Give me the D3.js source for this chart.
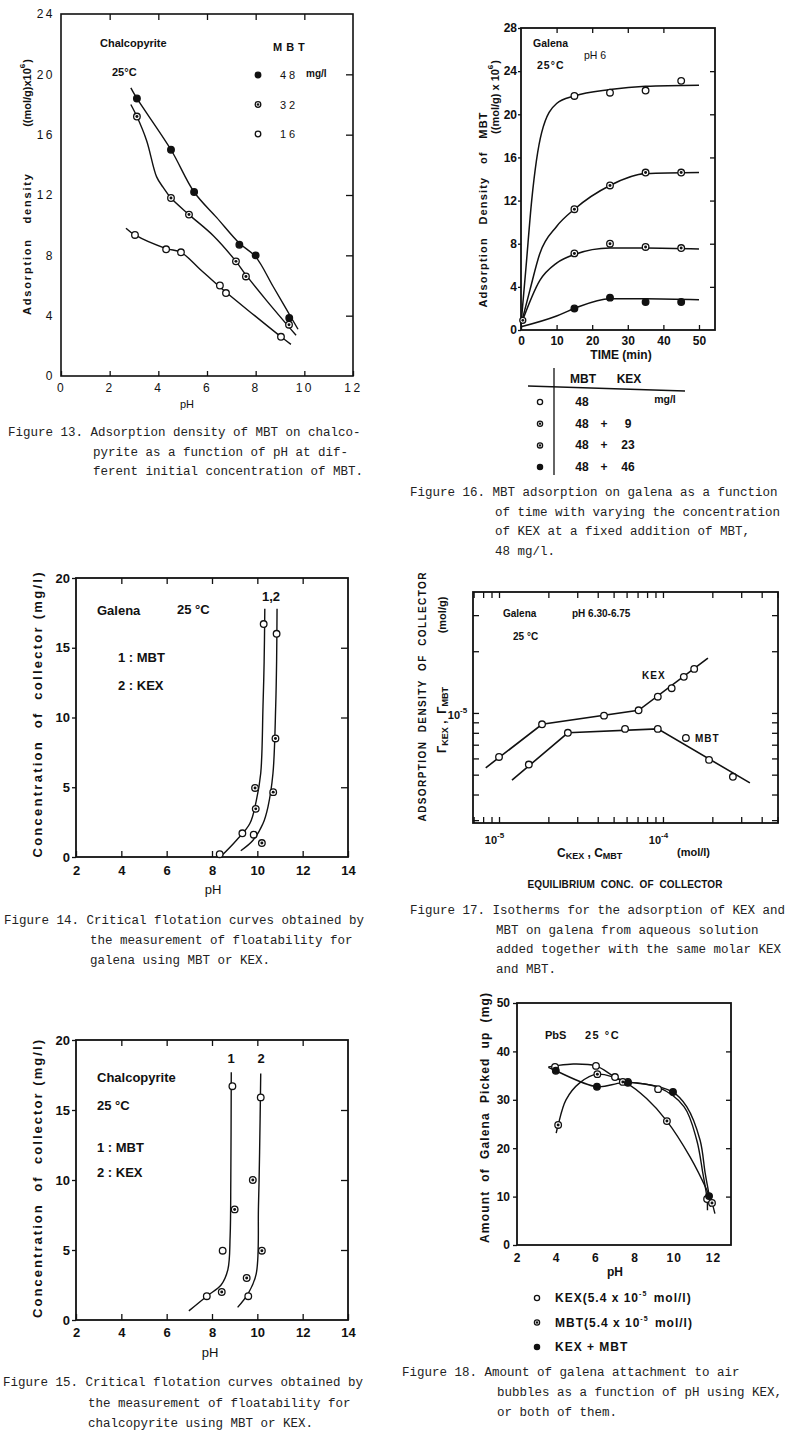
<!DOCTYPE html>
<html><head><meta charset="utf-8">
<script src="https://cdn.jsdelivr.net/npm/d3@7"></script>
<style>
body{margin:0;background:#fff;}
svg text{font-family:"Liberation Sans",Arial,sans-serif;fill:#111;white-space:pre;}
svg text.cap{font-family:"Liberation Mono","DejaVu Sans Mono",monospace;font-size:12.5px;fill:#222;font-weight:normal;}
</style></head><body>
<svg id="c" width="800" height="1440"></svg>
<script>
// ================= DATA =================
// Figure 13 : adsorption density vs pH (chalcopyrite)
const f13_xticks = [0,2,4,6,8,10,12];
const f13_yticks = [0,4,8,12,16,20,24];
const f13_pH_48 = [3.12,4.52,5.47,7.33,8.0,9.38];
const f13_ads_48 = [18.4,15.0,12.2,8.7,8.0,3.85];
const f13_pH_32 = [3.12,4.52,5.26,7.19,7.6,9.37];
const f13_ads_32 = [17.2,11.8,10.7,7.6,6.6,3.4];
const f13_pH_16 = [3.04,4.32,4.93,6.53,6.78,9.04];
const f13_ads_16 = [9.35,8.4,8.2,6.0,5.5,2.6];
const f13_curve_48 = [[2.87,19.1],[3.12,18.4],[4.52,15.0],[5.47,12.2],[6.4,10.5],[7.33,8.8],[8.0,7.9],[8.73,5.9],[9.74,3.1]];
const f13_curve_32 = [[2.87,18.0],[3.12,17.2],[3.52,15.6],[3.93,13.2],[4.2,12.5],[4.52,11.8],[5.26,10.7],[6.26,9.3],[7.19,7.6],[7.6,6.7],[8.45,5.0],[9.66,2.7]];
const f13_curve_16 = [[2.67,9.8],[3.04,9.35],[4.32,8.45],[4.93,8.2],[5.7,7.1],[6.6,5.8],[7.96,4.0],[9.04,2.6],[9.45,2.1]];
const f13_legend = ["48","32","16"];

// Figure 16 : MBT adsorption vs time (galena)
const f16_xticks = [0,10,20,30,40,50];
const f16_yticks = [0,4,8,12,16,20,24,28];
const f16_time = [15,25,35,45];
const f16_mbt48 = [21.7,22.0,22.2,23.1];
const f16_kex9 = [11.2,13.4,14.6,14.6];
const f16_kex23 = [7.1,8.0,7.7,7.6];
const f16_kex46 = [2.0,3.0,2.6,2.6];
const f16_curve_0 = [[0,0.5],[1.4,5.8],[3.0,12],[5.8,18.3],[10,21.0],[15,21.7],[25,22.3],[35,22.6],[50,22.7]];
const f16_curve_9 = [[0,0.5],[2.5,3.7],[5.3,7.1],[10,9.6],[15,11.2],[25,13.4],[35,14.5],[50,14.6]];
const f16_curve_23 = [[0,0.5],[5.3,4.6],[10,6.2],[15,7.0],[25,7.6],[35,7.6],[50,7.5]];
const f16_curve_46 = [[0,0.3],[10,1.3],[15,2.0],[25,2.9],[35,2.9],[50,2.8]];
const f16_leg_mbt = ["48","48","48","48"];
const f16_leg_kex = ["","9","23","46"];

// Figure 14 : critical flotation, galena
const f14_xticks = [2,4,6,8,10,12,14];
const f14_yticks = [0,5,10,15,20];
const f14_pH_mbt = [8.34,9.34,9.93,9.9,10.28];
const f14_c_mbt = [0.2,1.7,3.45,4.95,16.7];
const f14_k_mbt = ["open","open","half","half","open"];
const f14_pH_kex = [9.84,10.2,10.7,10.8,10.85];
const f14_c_kex = [1.6,1.0,4.65,8.5,16.0];
const f14_k_kex = ["open","half","half","half","open"];
const f14_curve_mbt = [[8.4,0.05],[9.08,1.2],[9.67,2.4],[9.95,4.0],[10.15,6.0],[10.25,10.8],[10.3,14],[10.33,17.8]];
const f14_curve_kex = [[9.27,0.45],[9.81,1.2],[10.25,2.4],[10.47,3.6],[10.69,6.0],[10.81,10.8],[10.85,14],[10.87,17.8]];

// Figure 15 : critical flotation, chalcopyrite
const f15_pH_mbt = [7.77,8.43,8.47,9.0,8.9];
const f15_c_mbt = [1.7,2.0,4.95,7.9,16.7];
const f15_k_mbt = ["open","half","open","half","open"];
const f15_pH_kex = [9.6,9.53,10.2,9.8,10.15];
const f15_c_kex = [1.7,3.0,4.95,10.0,15.9];
const f15_k_kex = ["open","half","half","half","open"];
const f15_curve_mbt = [[6.98,0.65],[7.77,1.7],[8.4,2.5],[8.7,3.6],[8.8,6],[8.83,10],[8.85,17.7]];
const f15_curve_kex = [[9.13,0.9],[9.6,1.9],[9.95,3.3],[10.05,8.1],[10.1,12],[10.15,17.6]];

// Figure 17 : isotherms (log-log)
const f17_xticks = [7e-6,8e-6,9e-6,1e-5,2e-5,3e-5,4e-5,5e-5,6e-5,7e-5,8e-5,9e-5,1e-4,2e-4,3e-4,4e-4,5e-4];
const f17_yticks = [3e-6,4e-6,5e-6,6e-6,7e-6,8e-6,9e-6,1e-5,2e-5,3e-5];
const f17_xlabels = [1e-5,1e-4];
const f17_c_kex = [1.0e-5,1.83e-5,4.37e-5,7.1e-5,9.3e-5,1.13e-4,1.34e-4,1.55e-4];
const f17_g_kex = [6.1e-6,8.8e-6,9.7e-6,1.03e-5,1.2e-5,1.32e-5,1.5e-5,1.64e-5];
const f17_c_mbt = [1.52e-5,2.63e-5,5.87e-5,9.3e-5,1.38e-4,1.91e-4,2.67e-4];
const f17_g_mbt = [5.6e-6,8.0e-6,8.36e-6,8.36e-6,7.55e-6,5.9e-6,4.88e-6];
const f17_line_kex = [[8.3e-6,5.4e-6],[1.83e-5,8.8e-6],[7.1e-5,1.03e-5],[1.88e-4,1.85e-5]];
const f17_line_mbt = [[1.2e-5,4.7e-6],[2.63e-5,8.0e-6],[9.3e-5,8.36e-6],[3.39e-4,4.56e-6]];

// Figure 18 : galena picked up vs pH
const f18_xticks = [2,4,6,8,10,12];
const f18_yticks = [0,10,20,30,40,50];
const f18_pH_kex = [3.94,6.03,7.0,7.66,9.2,11.7];
const f18_v_kex = [36.8,37.0,34.7,33.7,32.2,9.5];
const f18_pH_mbt = [4.1,6.1,7.4,9.65,11.95];
const f18_v_mbt = [24.8,35.3,33.7,25.6,8.7];
const f18_pH_both = [3.98,6.08,7.66,9.96,11.8];
const f18_v_both = [36.0,32.7,33.5,31.6,10.1];
const f18_curve_kex = [[3.6,36.8],[3.94,37.0],[4.87,37.4],[6.03,37.0],[7.0,34.7],[7.55,33.8],[9.2,32.6],[10.52,28.6],[11.17,21.7],[11.48,14.9],[11.7,9.5],[11.72,7.2]];
const f18_curve_both = [[3.6,36.7],[3.98,36.0],[6.08,32.7],[7.34,33.5],[8.5,33.3],[9.96,31.6],[10.66,28.6],[11.34,21.7],[11.6,14.9],[11.8,10.3],[11.88,7.9]];
const f18_curve_mbt = [[4.0,23.1],[4.1,24.8],[4.5,30],[5.2,33.5],[6.1,35.3],[7.6,33.4],[8.6,30.3],[9.65,25.6],[10.83,18.2],[11.68,11.4],[11.95,8.7],[12.1,6.5]];

// ================= HELPERS =================
const svg = d3.select('#c');
const INK = '#111';

function T(g,x,y,s,o={}){
  const t = g.append('text').text(s)
    .attr('font-size',o.size||12).attr('font-weight',o.w||'bold')
    .attr('text-anchor',o.a||'start').attr('dominant-baseline',o.b||'central');
  if(o.ls!==undefined) t.attr('letter-spacing',o.ls);
  if(o.rot!==undefined){ t.attr('transform',`translate(${x},${y}) rotate(${o.rot})`); }
  else { t.attr('x',x).attr('y',y); }
  if(o.len) t.attr('textLength',o.len).attr('lengthAdjust','spacing');
  if(o.cls) t.attr('class',o.cls);
  return t;
}
function sup(t,s,size,dy){ t.append('tspan').attr('dy',-(dy||5)).attr('font-size',size||8).text(s); t.append('tspan').attr('dy',(dy||5)).text('\u200a'); return t; }

function frame(g,X,Y,sw){
  const [x0,x1]=X.range(), [y0,y1]=Y.range();
  g.append('rect').attr('x',Math.min(x0,x1)).attr('y',Math.min(y0,y1))
   .attr('width',Math.abs(x1-x0)).attr('height',Math.abs(y1-y0))
   .attr('fill','none').attr('stroke',INK).attr('stroke-width',sw||1.6);
}
function axis(g,gen,tr,o={}){
  const a = g.append('g').attr('transform',tr).call(gen);
  a.select('.domain').remove();
  a.selectAll('line').attr('stroke',INK).attr('stroke-width',o.tw||1.3);
  a.selectAll('text').attr('font-size',o.size||12).attr('font-weight',o.w||'bold').attr('fill',INK);
  if(o.ls!==undefined) a.selectAll('text').attr('letter-spacing',o.ls);
  return a;
}
function curve(g,pts,X,Y,c,sw){
  g.append('path').datum(pts)
   .attr('d',d3.line().x(d=>X(d[0])).y(d=>Y(d[1])).curve(c||d3.curveCatmullRom.alpha(0.5)))
   .attr('fill','none').attr('stroke',INK).attr('stroke-width',sw||1.4);
}
function marks(g,xs,ys,X,Y,kinds,r){
  r = r||3.3;
  const data = xs.map((x,i)=>({x,y:ys[i],k:Array.isArray(kinds)?kinds[i]:kinds}));
  g.selectAll(null).data(data).join('circle')
    .attr('cx',d=>X(d.x)).attr('cy',d=>Y(d.y)).attr('r',r)
    .attr('fill',d=>d.k==='filled'?INK:'#fff').attr('stroke',INK).attr('stroke-width',1.3);
  g.selectAll(null).data(data.filter(d=>d.k==='half')).join('circle')
    .attr('cx',d=>X(d.x)).attr('cy',d=>Y(d.y)).attr('r',r*0.45).attr('fill',INK);
}
function mark1(g,cx,cy,k,r){
  r=r||3.3;
  g.append('circle').attr('cx',cx).attr('cy',cy).attr('r',r).attr('fill',k==='filled'?INK:'#fff').attr('stroke',INK).attr('stroke-width',1.3);
  if(k==='half') g.append('circle').attr('cx',cx).attr('cy',cy).attr('r',r*0.45).attr('fill',INK);
}
function caption(g,x0,x1,y0,lines,lh){
  lines.forEach((s,i)=>T(g,i===0?x0:x1,y0+i*(lh||20),s,{cls:'cap',b:'auto'}));
}

// ================= FIGURE 13 =================
{
  const g = svg.append('g');
  const X = d3.scaleLinear().domain([0,12]).range([61,353]);
  const Y = d3.scaleLinear().domain([0,24]).range([376,14]);
  frame(g,X,Y);
  axis(g,d3.axisBottom(X).tickValues(f13_xticks).tickSize(-5).tickPadding(7),`translate(0,${Y(0)})`,{size:12,w:'normal',ls:2.5});
  axis(g,d3.axisLeft(Y).tickValues(f13_yticks).tickSize(0).tickPadding(6),`translate(${X(0)},0)`,{size:12,w:'normal',ls:2.5});
  axis(g,d3.axisRight(Y).tickValues([4,8,12,16,20]).tickSize(-7).tickFormat(''),`translate(${X(12)},0)`);
  axis(g,d3.axisTop(X).tickValues([2,4,6,8,10]).tickSize(-6).tickFormat(''),`translate(0,${Y(24)})`);
  curve(g,f13_curve_48,X,Y); curve(g,f13_curve_32,X,Y); curve(g,f13_curve_16,X,Y);
  marks(g,f13_pH_48,f13_ads_48,X,Y,'filled');
  marks(g,f13_pH_32,f13_ads_32,X,Y,'half');
  marks(g,f13_pH_16,f13_ads_16,X,Y,'open');
  T(g,100,43,'Chalcopyrite',{size:11});
  T(g,112,72,'25°C',{size:11});
  T(g,273,47,'MBT',{size:11,ls:4});
  const lk=['filled','half','open'];
  f13_legend.forEach((s,i)=>{ mark1(g,258,75+i*29.5,lk[i],2.8); T(g,280,75+i*29.5,s,{size:11,w:'normal',ls:3}); });
  T(g,306,73,'mg/l',{size:10});
  T(g,27,244,'Adsorption   density',{size:11,rot:-90,a:'middle',ls:1,len:142});
  sup(T(g,27,93,'((mol/g)x10',{size:11,rot:-90,a:'middle'}),'6',8,5).append('tspan').text(')');
  T(g,187,404,'pH',{size:11,w:'normal',a:'middle'});
  caption(g,8,93,436,['Figure 13. Adsorption density of MBT on chalco-','pyrite as a function of pH at dif-','ferent initial concentration of MBT.'],19.5);
}

// ================= FIGURE 16 =================
{
  const g = svg.append('g');
  const X = d3.scaleLinear().domain([0,54.5]).range([521,715]);
  const Y = d3.scaleLinear().domain([0,28]).range([330,28]);
  frame(g,X,Y,1.8);
  axis(g,d3.axisBottom(X).tickValues(f16_xticks).tickSize(-5).tickPadding(6),`translate(0,${Y(0)})`,{size:12});
  axis(g,d3.axisLeft(Y).tickValues(f16_yticks).tickSize(3).tickPadding(1),`translate(${X(0)},0)`,{size:12});
  axis(g,d3.axisRight(Y).tickValues([4,8,12,16,20,24]).tickSize(-5).tickFormat(''),`translate(${X(54.5)},0)`);
  axis(g,d3.axisTop(X).tickValues([10,20,30,40]).tickSize(-5).tickFormat(''),`translate(0,${Y(28)})`);
  [f16_curve_0,f16_curve_9,f16_curve_23,f16_curve_46].forEach(c=>curve(g,c,X,Y,d3.curveMonotoneX,1.5));
  marks(g,f16_time,f16_mbt48,X,Y,'open');
  marks(g,f16_time,f16_kex9,X,Y,'half');
  marks(g,f16_time,f16_kex23,X,Y,'half');
  marks(g,f16_time,f16_kex46,X,Y,'filled');
  mark1(g,X(0.5),Y(0.9),'half',3);
  T(g,533,43,'Galena',{size:10.5});
  T(g,537,65,'25°C',{size:10.5,ls:1});
  T(g,584,55,'pH 6',{size:10.5,w:'normal'});
  T(g,483,210,'Adsorption   Density   of   MBT',{size:11,rot:-90,a:'middle',len:195});
  sup(T(g,495,97,'((mol/g) x 10',{size:11,rot:-90,a:'middle'}),'6',8,5).append('tspan').text(')');
  T(g,621,355,'TIME (min)',{size:12,a:'middle'});
  // legend table
  g.append('line').attr('x1',554).attr('x2',554).attr('y1',368).attr('y2',475).attr('stroke',INK).attr('stroke-width',1.3);
  g.append('line').attr('x1',528).attr('x2',685).attr('y1',386).attr('y2',391).attr('stroke',INK).attr('stroke-width',1.3);
  T(g,583,379,'MBT',{size:12,a:'middle'});
  T(g,629,379,'KEX',{size:12,a:'middle'});
  const lk=['open','half','half','filled'];
  f16_leg_mbt.forEach((s,i)=>{
    const y=402+i*21.7;
    mark1(g,540,y,lk[i],2.6);
    T(g,582,y,s,{size:12,a:'middle'});
    if(f16_leg_kex[i]){ T(g,604,y,'+',{size:12,a:'middle'}); T(g,628,y,f16_leg_kex[i],{size:12,a:'middle'}); }
  });
  T(g,665,399,'mg/l',{size:10.5,a:'middle'});
  caption(g,410,495,496,['Figure 16. MBT adsorption on galena as a function','of time with varying the concentration','of KEX at a fixed addition of MBT,','48 mg/l.'],19.7);
}

// ================= FIGURE 14 =================
{
  const g = svg.append('g');
  const X = d3.scaleLinear().domain([2,14]).range([76,348]);
  const Y = d3.scaleLinear().domain([0,20]).range([857,578]);
  frame(g,X,Y,1.8);
  axis(g,d3.axisBottom(X).tickValues(f14_xticks).tickSize(-6).tickPadding(9),`translate(0,${Y(0)})`,{size:13});
  axis(g,d3.axisLeft(Y).tickValues(f14_yticks).tickSize(4).tickPadding(2),`translate(${X(2)},0)`,{size:13});
  axis(g,d3.axisRight(Y).tickValues([5,10,15]).tickSize(-7).tickFormat(''),`translate(${X(14)},0)`);
  axis(g,d3.axisTop(X).tickValues([4,6,8,10,12]).tickSize(-6).tickFormat(''),`translate(0,${Y(20)})`);
  curve(g,f14_curve_mbt,X,Y); curve(g,f14_curve_kex,X,Y);
  marks(g,f14_pH_mbt,f14_c_mbt,X,Y,f14_k_mbt);
  marks(g,f14_pH_kex,f14_c_kex,X,Y,f14_k_kex);
  T(g,97,610,'Galena',{size:13});
  T(g,177,609,'25 °C',{size:13});
  T(g,271,596,'1,2',{size:13,a:'middle'});
  T(g,118,657,'1 : MBT',{size:13});
  T(g,118,685,'2 : KEX',{size:13});
  T(g,37,715,'Concentration  of  collector (mg/l)',{size:13,rot:-90,a:'middle',len:285});
  T(g,213,889,'pH',{size:13,w:'normal',a:'middle'});
  caption(g,4,90,924,['Figure 14. Critical flotation curves obtained by','the measurement of floatability for','galena using MBT or KEX.'],20);
}

// ================= FIGURE 15 =================
{
  const g = svg.append('g');
  const X = d3.scaleLinear().domain([2,14]).range([76,348]);
  const Y = d3.scaleLinear().domain([0,20]).range([1320,1040]);
  frame(g,X,Y,1.8);
  axis(g,d3.axisBottom(X).tickValues(f14_xticks).tickSize(-6).tickPadding(8),`translate(0,${Y(0)})`,{size:13});
  axis(g,d3.axisLeft(Y).tickValues(f14_yticks).tickSize(4).tickPadding(2),`translate(${X(2)},0)`,{size:13});
  axis(g,d3.axisRight(Y).tickValues([5,10,15]).tickSize(-7).tickFormat(''),`translate(${X(14)},0)`);
  axis(g,d3.axisTop(X).tickValues([4,6,8,10,12]).tickSize(-6).tickFormat(''),`translate(0,${Y(20)})`);
  curve(g,f15_curve_mbt,X,Y); curve(g,f15_curve_kex,X,Y);
  marks(g,f15_pH_mbt,f15_c_mbt,X,Y,f15_k_mbt);
  marks(g,f15_pH_kex,f15_c_kex,X,Y,f15_k_kex);
  T(g,231,1058,'1',{size:13,a:'middle'});
  T(g,261,1058,'2',{size:13,a:'middle'});
  T(g,97,1077,'Chalcopyrite',{size:13});
  T(g,97,1105,'25 °C',{size:13});
  T(g,97,1147,'1 : MBT',{size:13});
  T(g,97,1172,'2 : KEX',{size:13});
  T(g,37,1179,'Concentration  of  collector (mg/l)',{size:13,rot:-90,a:'middle',len:278});
  T(g,210,1352,'pH',{size:13,w:'normal',a:'middle'});
  caption(g,3,88,1386,['Figure 15. Critical flotation curves obtained by','the measurement of floatability for','chalcopyrite using MBT or KEX.'],20.5);
}

// ================= FIGURE 17 =================
{
  const g = svg.append('g');
  const X = d3.scaleLog().domain([6.94e-6,5.03e-4]).range([473,778]);
  const Y = d3.scaleLog().domain([2.905e-6,3.89e-5]).range([823,592]);
  frame(g,X,Y,1.8);
  axis(g,d3.axisBottom(X).tickValues(f17_xticks).tickSize(-6).tickFormat(''),`translate(0,${Y.range()[0]})`);
  axis(g,d3.axisTop(X).tickValues(f17_xticks).tickSize(-6).tickFormat(''),`translate(0,${Y.range()[1]})`);
  axis(g,d3.axisLeft(Y).tickValues(f17_yticks).tickSize(-6).tickFormat(''),`translate(${X.range()[0]},0)`);
  axis(g,d3.axisRight(Y).tickValues(f17_yticks).tickSize(-6).tickFormat(''),`translate(${X.range()[1]},0)`);
  const xl = ['-5','-4'];
  f17_xlabels.forEach((v,i)=>sup(T(g,X(v)-4,840,'10',{size:11,a:'middle'}),xl[i],8,5));
  sup(T(g,458,715,'10',{size:11,a:'middle'}),'-5',8,5);
  curve(g,f17_line_kex,X,Y,d3.curveLinear,1.6);
  curve(g,f17_line_mbt,X,Y,d3.curveLinear,1.6);
  marks(g,f17_c_kex,f17_g_kex,X,Y,'open',3.3);
  marks(g,f17_c_mbt,f17_g_mbt,X,Y,'open',3.3);
  T(g,503,613,'Galena',{size:10});
  T(g,572,613,'pH 6.30-6.75',{size:10});
  T(g,513,636,'25 °C',{size:10});
  T(g,642,675,'KEX',{size:10,ls:1});
  T(g,695,738,'MBT',{size:10,ls:1});
  const c1 = T(g,557,853,'C',{size:12});
  c1.append('tspan').attr('dy',3).attr('font-size',9).text('KEX');
  c1.append('tspan').attr('dy',-3).text(' , C');
  c1.append('tspan').attr('dy',3).attr('font-size',9).text('MBT');
  T(g,677,852,'(mol/l)',{size:11});
  T(g,625,884,'EQUILIBRIUM  CONC.  OF  COLLECTOR',{size:10,a:'middle',len:195});
  T(g,422,697,'ADSORPTION  DENSITY  OF  COLLECTOR',{size:10,rot:-90,a:'middle',len:249});
  const gl = T(g,442,720,'Γ',{size:12,rot:-90,a:'middle'});
  gl.append('tspan').attr('dy',3).attr('font-size',9).text('KEX');
  gl.append('tspan').attr('dy',-3).text(' ,  Γ');
  gl.append('tspan').attr('dy',3).attr('font-size',9).text('MBT');
  T(g,442,615,'(mol/g)',{size:11,rot:-90,a:'middle'});
  caption(g,410,496,914,['Figure 17. Isotherms for the adsorption of KEX and','MBT on galena from aqueous solution','added together with the same molar KEX','and MBT.'],19.7);
}

// ================= FIGURE 18 =================
{
  const g = svg.append('g');
  const X = d3.scaleLinear().domain([2,12.92]).range([517,731]);
  const Y = d3.scaleLinear().domain([0,50]).range([1245,1003]);
  frame(g,X,Y,1.8);
  axis(g,d3.axisBottom(X).tickValues(f18_xticks).tickSize(0).tickPadding(8),`translate(0,${Y(0)})`,{size:12,ls:1});
  axis(g,d3.axisLeft(Y).tickValues(f18_yticks).tickSize(4).tickPadding(3),`translate(${X(2)},0)`,{size:12});
  axis(g,d3.axisRight(Y).tickValues([10,20,30,40]).tickSize(-5).tickFormat(''),`translate(${X(12.92)},0)`);
  curve(g,f18_curve_kex,X,Y); curve(g,f18_curve_both,X,Y); curve(g,f18_curve_mbt,X,Y);
  marks(g,f18_pH_kex,f18_v_kex,X,Y,'open');
  marks(g,f18_pH_mbt,f18_v_mbt,X,Y,'half');
  marks(g,f18_pH_both,f18_v_both,X,Y,'filled');
  T(g,545,1035,'PbS',{size:11});
  T(g,585,1035,'25 °C',{size:11,ls:1.5});
  T(g,485,1118,'Amount  of  Galena  Picked  up  (mg)',{size:12,rot:-90,a:'middle',len:250});
  T(g,615,1272,'pH',{size:12,a:'middle'});
  const lk=['open','half','filled'];
  const rows=[['KEX(5.4 x 10','-5',' mol/l)'],['MBT(5.4 x 10','-5',' mol/l)'],['KEX + MBT']];
  rows.forEach((r,i)=>{
    const y=1298+i*24.5;
    mark1(g,537,y,lk[i],2.6);
    const t=T(g,555,y,r[0],{size:12,ls:1});
    if(r[1]){ sup(t,r[1],7,5); t.append('tspan').text(r[2]); }
  });
  caption(g,402,497,1376,['Figure 18. Amount of galena attachment to air','bubbles as a function of pH using KEX,','or both of them.'],20);
}
</script>
</body></html>
